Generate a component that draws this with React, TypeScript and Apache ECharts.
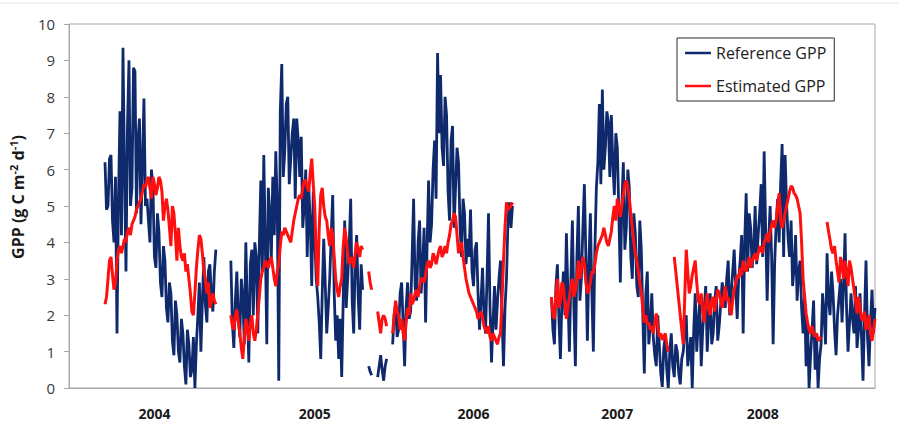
import React, { useEffect, useRef } from 'react';
import * as echarts from 'echarts';

// ---- data -------------------------------------------------------------
// one sample every ~3.5 days; categories are sample numbers
const SAMPLE_COUNT = 539;
const SAMPLES: string[] = Array.from({ length: SAMPLE_COUNT }, (_, i) => 'S' + i);

const YEAR_LABELS = ['2004', '2005', '2006', '2007', '2008'];
const YEAR_LABEL_SAMPLES = [57, 164, 270, 366, 463];

const SERIES_NAMES = ['Reference GPP', 'Estimated GPP'];

// Reference GPP (blue)
const REF_2004 = [
  6.2, 4.9, 5.0, 6.3, 6.4, 4.6, 4.0, 5.8, 1.5, 5.2, 7.6, 4.2, 9.35, 6.0, 3.2, 7.2, 9.0, 5.0, 5.5, 8.8,
  8.7, 4.8, 6.8, 7.4, 4.5, 6.2, 7.95, 5.0, 5.2, 4.6, 4.0, 6.0, 5.5, 3.6, 3.3, 4.8, 4.3, 2.9, 2.5, 3.9,
  3.5, 2.2, 1.8, 2.9, 2.6, 1.3, 0.9, 2.4, 2.0, 1.0, 0.7, 1.9, 1.5, 0.6, 0.1, 1.6, 1.2, 0.3, 0.5, 1.4,
  0.0, 1.2, 2.0, 2.9, 1.0, 2.4, 3.6, 2.3, 1.8, 3.2, 3.4, 2.6, 2.1, 3.2, 3.8,
];
const REF_2005 = [
  3.5, 1.8, 1.1, 2.4, 3.2, 1.9, 1.4, 3.0, 2.5, 1.2, 4.0, 2.2, 0.7, 3.4, 3.8, 2.0, 4.0, 3.6, 1.5, 3.9,
  5.7, 3.2, 6.4, 4.0, 1.2, 5.5, 4.8, 3.5, 5.8, 4.2, 6.5, 5.0, 0.2, 7.6, 8.9, 5.8, 6.5, 7.8, 8.0, 5.6,
  6.3, 7.0, 7.4, 5.2, 7.4, 6.8, 5.8, 6.9, 4.4, 5.0, 6.0, 3.6, 5.5, 4.6, 2.8, 5.4, 4.1, 3.0, 2.5, 1.8,
  0.8, 2.6, 4.1, 2.9, 1.5, 2.2, 3.0, 4.2, 5.3, 2.6, 1.3, 2.0, 0.8, 1.9, 0.3, 2.4, 4.6, 2.2, 3.0, 3.9,
  5.2, 2.4, 1.5, 3.5, 4.2, 2.5, 1.6, 3.4, 2.7,
];
const REF_2005_TAIL = [0.6, 0.45, 0.35];
const REF_2006_HEAD = [0.3, 0.6, 0.9, 0.5, 0.2, 0.6, 0.8];
const REF_2006 = [
  1.2, 2.0, 2.3, 1.4, 1.6, 2.6, 2.9, 1.8, 0.6, 2.2, 2.9, 1.9, 2.1, 3.6, 5.2, 2.8, 2.4, 4.0, 4.6, 2.6,
  3.3, 4.4, 1.8, 3.9, 5.7, 4.0, 4.5, 6.0, 6.8, 5.2, 9.2, 7.0, 8.6, 6.6, 6.1, 8.0, 7.5, 5.4, 4.6, 6.8,
  7.2, 4.4, 5.5, 6.6, 6.2, 4.4, 3.6, 5.2, 4.8, 3.4, 4.1, 3.6, 4.9, 3.2, 2.8, 3.8, 4.0, 2.6, 1.6, 2.4,
  3.3, 2.0, 1.5, 3.0, 4.8, 2.2, 0.7, 1.8, 2.8, 1.6, 2.4, 3.0, 3.5, 2.0, 0.6, 2.2, 3.0, 4.6, 5.1, 4.4,
  5.0,
];
const REF_2007_2008 = [
  2.5, 1.6, 1.2, 2.8, 3.4, 1.9, 0.8, 2.4, 3.2, 2.0, 4.25, 2.6, 1.0, 3.0, 4.6, 2.2, 0.6, 3.6, 5.0, 2.4,
  3.0, 4.4, 5.6, 3.6, 1.3, 3.4, 4.8, 2.6, 1.0, 3.8, 5.5, 6.2, 7.8, 5.6, 8.2, 6.0, 6.6, 7.6, 7.3, 5.8,
  7.5, 6.2, 5.3, 7.0, 6.6, 4.8, 2.9, 5.0, 6.2, 3.8, 4.4, 6.0, 5.5, 3.6, 3.0, 4.8, 4.25, 2.8, 2.5, 4.6,
  3.8, 2.0, 0.4, 2.6, 3.2, 1.2, 1.7, 2.6, 1.4, 0.9, 0.6, 2.0, 1.2, 0.4, 0.03, 1.1, 1.4, 0.5, 0.0, 1.0,
  1.5, 0.6, 0.3, 1.2, 1.0, 0.4, 0.1, 0.8, 1.0, 1.6, 2.0, 0.6, 1.0, 1.4, 0.0, 1.6, 2.6, 1.0, 1.8, 2.4,
  0.6, 1.6, 2.2, 2.8, 1.0, 1.9, 2.6, 1.2, 1.5, 2.4, 2.8, 1.3, 1.7, 2.3, 2.9, 2.6, 2.2, 3.0, 3.5, 2.0,
  2.6, 3.2, 3.8, 2.8, 1.9, 3.0, 3.5, 4.2, 1.5, 4.0, 5.35, 3.2, 4.8, 4.4, 3.3, 3.8, 5.0, 3.4, 4.2, 4.8,
  5.6, 3.6, 6.5, 4.4, 2.4, 4.0, 5.0, 3.6, 1.2, 3.4, 4.5, 5.2, 4.0, 5.6, 6.7, 3.6, 6.4, 5.0, 4.1, 3.6,
  4.6, 2.8, 3.3, 4.2, 2.4, 3.2, 3.5, 2.2, 1.5, 2.6, 0.6, 1.8, 0.0, 0.9, 1.6, 2.4, 0.5, 1.4, 0.0, 0.8,
  1.2, 2.6, 2.0, 1.2, 3.7, 2.4, 2.0, 3.2, 2.6, 1.6, 0.9, 2.0, 2.5, 3.0, 1.8, 2.8, 4.25, 2.2, 1.0, 1.8,
  2.6, 1.9, 1.5, 2.8, 1.1, 1.6, 2.6, 1.4, 0.2, 2.0, 3.5, 1.4, 0.6, 1.8, 2.7, 1.5, 2.2,
];

// Estimated GPP (red)
const EST_2004 = [
  2.3, 2.5, 3.0, 3.5, 3.6, 3.1, 2.7, 2.9, 3.5, 3.8, 3.9, 3.7, 3.9, 4.1, 4.0, 4.3, 4.4, 4.2, 4.5, 4.6,
  4.7, 4.9, 5.0, 5.1, 5.2, 5.4, 5.6, 5.5, 5.7, 5.8, 5.5, 5.2, 5.8, 5.6, 5.3, 5.5, 5.8, 5.7, 5.4, 4.6,
  5.0, 5.2, 4.9, 4.4, 3.9, 5.0, 4.8, 4.2, 3.5, 4.4, 3.9, 3.6, 3.5, 3.7, 3.2, 3.4, 3.0, 2.6, 2.1, 2.0,
  2.6, 3.3, 3.8, 4.2, 4.1, 3.7, 3.2, 3.0, 2.6, 2.9, 2.2, 2.4, 2.6, 2.4, 2.3,
];
const EST_2005 = [
  2.0, 1.7, 1.6, 2.0, 2.15, 1.8, 1.5, 1.1, 0.8, 1.4, 1.9, 1.6, 1.3, 1.8, 2.0, 1.5, 1.3, 1.6, 2.05, 2.5,
  3.0, 3.2, 3.3, 3.5, 3.4, 3.3, 3.5, 3.6, 3.3, 3.0, 2.8, 3.2, 3.4, 3.9, 4.3, 4.2, 4.4, 4.3, 4.2, 4.1,
  4.0, 4.3, 4.6, 4.8, 5.0, 5.2, 5.3, 5.2, 5.5, 5.7, 5.7, 5.5, 5.4, 5.9, 6.3, 5.6, 5.0, 3.6, 2.8, 4.4,
  5.3, 5.5, 5.0, 4.7, 4.6, 4.2, 3.9, 4.4, 4.2, 3.6, 3.0, 2.7, 2.5, 2.8, 3.0, 3.9, 4.4, 4.1, 3.7, 3.4,
  3.5, 3.6, 3.3, 3.7, 4.0, 3.8, 3.6, 3.9, 3.8,
];
const EST_2005_TAIL = [3.2, 2.9, 2.7];
const EST_2006_HEAD = [2.1, 1.8, 1.5, 1.9, 2.0, 1.9, 1.7];
const EST_2006 = [
  1.5, 2.0, 2.4, 2.1, 2.0, 1.6, 1.9, 1.5, 1.3, 1.8, 2.2, 2.0, 2.6, 2.3, 2.4, 2.6, 2.7, 2.5, 2.8, 3.0,
  3.0, 2.9, 3.1, 3.4, 3.5, 3.3, 3.4, 3.7, 3.6, 3.4, 3.6, 3.8, 3.9, 3.6, 3.7, 3.9, 3.7, 4.0, 4.2, 4.5,
  4.6, 4.8, 4.7, 4.2, 3.7, 3.9, 4.0, 3.6, 3.3, 3.0, 2.8, 2.6, 2.5, 2.4, 2.3, 2.2, 2.1, 1.9, 2.0, 2.1,
  1.95, 1.7, 1.6, 1.5, 1.7, 1.4, 1.3, 1.5, 1.4, 1.3, 1.2, 1.4, 1.5, 2.4, 3.5, 4.4, 5.1, 4.9, 4.95, 5.0,
  5.1,
];
const EST_2007 = [
  2.5, 2.0, 1.9, 2.6, 3.0, 2.2, 2.4, 2.9, 2.8, 2.3, 1.9, 2.2, 2.5, 2.8, 3.0, 2.5, 2.7, 3.0, 3.5, 3.0,
  3.3, 3.6, 3.4, 2.9, 2.6, 2.7, 2.9, 3.2, 3.15, 3.4, 3.7, 3.9, 4.0, 4.1, 4.2, 4.4, 4.2, 4.0, 3.9, 4.1,
  4.3, 4.7, 5.0, 4.6, 5.2, 5.0, 4.7, 5.0, 5.3, 5.6, 5.7, 5.5, 5.2, 4.8, 4.4, 4.0, 3.7, 3.5, 3.2, 2.9,
  2.6, 2.2, 1.8, 2.0, 1.75, 1.8, 1.6, 1.7, 1.5, 1.8, 2.05, 1.7, 1.4, 1.5, 1.32, 1.4, 1.5, 1.2, 1.0,
];
const EST_2008 = [
  3.6, 3.2, 2.8, 2.4, 2.0, 1.6, 1.2, 2.5, 3.8, 3.2, 2.6, 2.8, 3.1, 3.3, 3.5, 2.9, 2.4, 2.3, 2.6, 2.1,
  1.8, 2.3, 2.6, 2.2, 2.0, 2.4, 2.5, 2.1, 2.4, 2.7, 2.6, 2.4, 2.2, 2.5, 2.8, 2.4, 2.5, 2.2, 2.0, 2.4,
  2.7, 2.9, 3.1, 3.0, 3.3, 3.1, 3.5, 3.3, 3.2, 3.4, 3.6, 3.3, 3.5, 3.6, 3.7, 3.5, 3.7, 3.9, 3.8, 3.7,
  4.0, 4.1, 4.25, 4.0, 4.3, 4.5, 4.6, 4.4, 4.6, 5.0, 5.35, 4.6, 4.4, 4.6, 4.8, 5.0, 5.2, 5.4, 5.55, 5.5,
  5.35, 5.3, 5.2, 5.0, 4.8, 4.0, 3.0, 2.5, 2.05, 1.8, 1.6, 1.5, 1.7, 1.5, 1.4, 1.5, 1.3, 1.35, 1.4,
];
const EST_2008_TAIL = [
  4.56, 4.3, 4.06, 3.8, 3.7, 3.9, 3.5, 3.2, 2.9, 3.6, 3.4, 3.0, 3.5, 3.2, 2.8, 3.5, 3.3, 3.0, 2.7, 2.4,
  2.05, 2.5, 2.2, 1.9, 1.87, 2.1, 1.6, 1.8, 2.0, 1.5, 1.3, 1.6, 1.9,
];

const REF_SEGMENTS: [number, number[]][] = [
  [24, REF_2004],
  [108, REF_2005],
  [200, REF_2005_TAIL],
  [206, REF_2006_HEAD],
  [216, REF_2006],
  [322, REF_2007_2008],
];
const EST_SEGMENTS: [number, number[]][] = [
  [24, EST_2004],
  [108, EST_2005],
  [200, EST_2005_TAIL],
  [206, EST_2006_HEAD],
  [216, EST_2006],
  [322, EST_2007],
  [404, EST_2008],
  [506, EST_2008_TAIL],
];

function assemble(segments: [number, number[]][]): (number | null)[] {
  const out: (number | null)[] = new Array(SAMPLE_COUNT).fill(null);
  segments.forEach(([start, vals]) => {
    vals.forEach((v, k) => {
      if (start + k < SAMPLE_COUNT) out[start + k] = v;
    });
  });
  return out;
}

const FONT = '"Open Sans", "Liberation Sans", sans-serif';
const BLUE = '#0f2a6c';
const RED = '#ff1010';
const AXIS_GREY = '#a8a8a8';

export default function App() {
  const ref = useRef<HTMLDivElement>(null);

  useEffect(() => {
    document.body.style.margin = '0';
    if (!ref.current) return;
    const chart = echarts.init(ref.current, undefined, { renderer: 'svg' });
    const yearBySample: Record<string, string> = {};
    YEAR_LABEL_SAMPLES.forEach((s, k) => {
      yearBySample[SAMPLES[s]] = YEAR_LABELS[k];
    });

    chart.setOption({
      animation: false,
      backgroundColor: '#ffffff',
      grid: {
        left: 69,
        right: 23,
        top: 24,
        bottom: 35,
        show: true,
        borderColor: AXIS_GREY,
        borderWidth: 1,
        backgroundColor: 'transparent',
      },
      graphic: [
        {
          type: 'line',
          shape: { x1: 0, y1: 3, x2: 898, y2: 3 },
          style: { stroke: '#e2e2e2', lineWidth: 1 },
          silent: true,
        },
      ],
      legend: {
        orient: 'vertical',
        left: 677,
        top: 38,
        padding: [5, 8, 5, 8],
        itemGap: 13,
        itemWidth: 26,
        itemHeight: 2.5,
        icon: 'rect',
        borderColor: '#2a2a2a',
        borderWidth: 1,
        backgroundColor: '#ffffff',
        textStyle: { fontFamily: FONT, fontSize: 16, color: '#222222', lineHeight: 20 },
        data: SERIES_NAMES,
      },
      xAxis: {
        type: 'category',
        data: SAMPLES,
        boundaryGap: false,
        axisLine: { show: true, lineStyle: { color: AXIS_GREY, width: 1 } },
        axisTick: { show: false },
        splitLine: { show: false },
        axisLabel: {
          interval: (index: number, value: string) => yearBySample[value] !== undefined,
          formatter: (value: string) => yearBySample[value] || '',
          fontFamily: FONT,
          fontWeight: 'bold',
          fontSize: 14,
          color: '#1a1a1a',
          margin: 18,
        },
      },
      yAxis: {
        type: 'value',
        min: 0,
        max: 10,
        interval: 1,
        splitLine: { show: false },
        axisLine: { show: true, lineStyle: { color: AXIS_GREY, width: 1 } },
        axisTick: { show: true, length: 5, lineStyle: { color: AXIS_GREY } },
        axisLabel: { fontFamily: FONT, fontSize: 15, color: '#3a3a3a', margin: 14 },
        name: 'GPP (g C m{sup|-2} d{sup|-1})',
        nameLocation: 'middle',
        nameRotate: 90,
        nameGap: 38,
        nameTextStyle: {
          fontFamily: FONT,
          fontSize: 16,
          fontWeight: 'bold',
          color: '#1a1a1a',
          lineHeight: 19,
          padding: [0, 0, 0, 18],
          rich: {
            sup: {
              fontFamily: FONT,
              fontSize: 11,
              fontWeight: 'bold',
              color: '#1a1a1a',
              verticalAlign: 'top',
              lineHeight: 19,
            },
          },
        },
      },
      series: [
        {
          name: SERIES_NAMES[0],
          type: 'line',
          data: assemble(REF_SEGMENTS),
          symbol: 'none',
          showSymbol: false,
          connectNulls: false,
          color: BLUE,
          lineStyle: { color: BLUE, width: 2.8 },
          z: 2,
        },
        {
          name: SERIES_NAMES[1],
          type: 'line',
          data: assemble(EST_SEGMENTS),
          symbol: 'none',
          showSymbol: false,
          connectNulls: false,
          color: RED,
          lineStyle: { color: RED, width: 3 },
          z: 3,
        },
      ],
    });
    return () => chart.dispose();
  }, []);

  return <div ref={ref} style={{ width: 898, height: 423 }} />;
}
